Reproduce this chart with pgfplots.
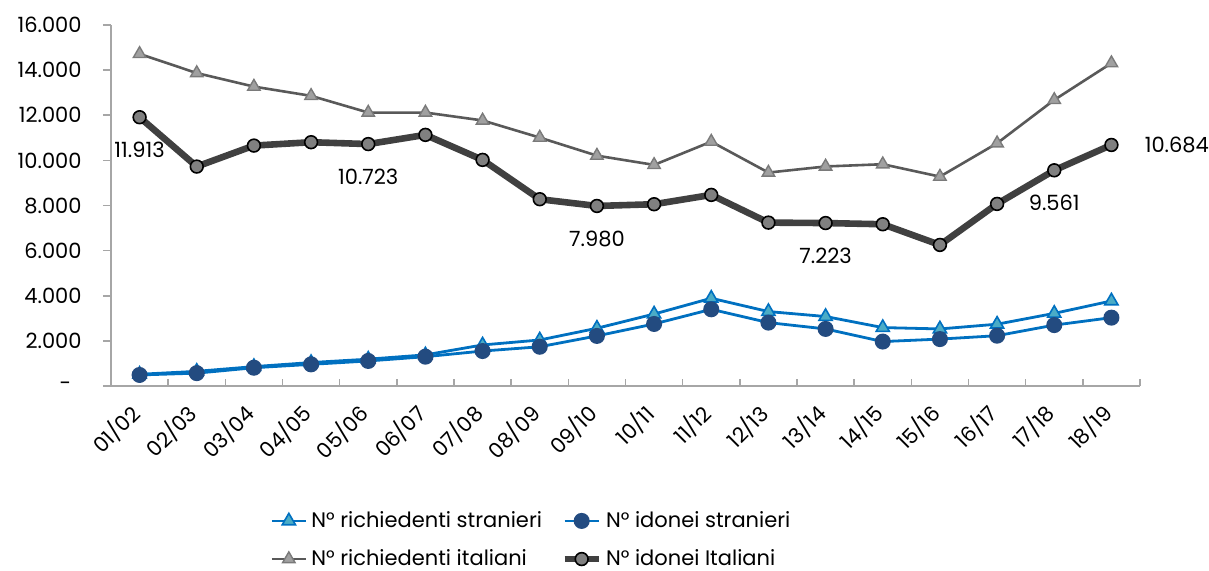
\documentclass[border=0pt]{standalone}
\usepackage{fontspec}
\setmainfont{Poppins}
\usepackage{pgfplots}
\pgfplotsset{compat=1.18}

\definecolor{blu}{HTML}{0070C0}
\definecolor{azz}{HTML}{4BACC6}
\definecolor{blusc}{HTML}{234B80}
\definecolor{gr}{HTML}{595959}
\definecolor{grtri}{HTML}{A0A0A0}
\definecolor{grdk}{HTML}{404040}
\definecolor{grc}{HTML}{808080}
\definecolor{asse}{HTML}{A6A6A6}

\begin{document}
\fontsize{10.5}{12.6}\selectfont
\begin{tikzpicture}
\path[use as bounding box] (-55.5pt,-92pt) rectangle (549pt,193pt);
\begin{axis}[
  scale only axis, width=514.5pt, height=180.5pt,
  xmin=-0.5, xmax=17.5, ymin=0, ymax=16000,
  clip=false,
  axis x line*=bottom, axis y line*=left,
  axis line style={draw=asse, line width=0.8pt, -},
  tick align=inside,
  xtick={0,...,17},
  xticklabels={01/02,02/03,03/04,04/05,05/06,06/07,07/08,08/09,09/10,10/11,11/12,12/13,13/14,14/15,15/16,16/17,17/18,18/19},
  major x tick style={draw=none},
  minor xtick={-0.5,0.5,...,17.5},
  minor tick length=3.5pt,
  minor x tick style={draw=asse, line width=0.8pt},
  scaled y ticks=false,
  ytick={0,2000,...,16000},
  yticklabels={{\makebox[11pt][l]{-}},2.000,4.000,6.000,8.000,10.000,12.000,14.000,16.000},
  major tick length=4pt,
  ytick style={draw=asse, line width=0.8pt, xshift=-4pt},
  yticklabel style={anchor=east, inner sep=0pt, xshift=-14.5pt},
  xticklabel style={xshift=-6pt, yshift=-7.5pt, rotate=45, anchor=north east, inner sep=0pt},
  legend columns=2,
  legend cell align=left,
  legend style={draw=none, fill=none, inner sep=0pt, row sep=5.5pt,
    at={(axis description cs:0.1545,-0.335)}, anchor=north west},
]
\addplot[blu, line width=1.4pt, mark=triangle*, mark size=3.8pt,
  mark options={fill=azz, draw=blu, line width=0.8pt}] coordinates {
(0,520) (1,650) (2,860) (3,1040) (4,1190) (5,1380) (6,1820) (7,2040) (8,2560)
(9,3190) (10,3890) (11,3300) (12,3080) (13,2590) (14,2530) (15,2740) (16,3220) (17,3770)};
\addlegendentry{\makebox[123pt][l]{N° richiedenti stranieri}}
\addplot[blu, line width=1.4pt, mark=*, mark size=3.3pt,
  mark options={fill=blusc, draw=blusc}] coordinates {
(0,490) (1,570) (2,810) (3,960) (4,1110) (5,1300) (6,1550) (7,1740) (8,2220)
(9,2750) (10,3400) (11,2810) (12,2530) (13,1970) (14,2080) (15,2230) (16,2700) (17,3030)};
\addlegendentry{N° idonei stranieri}
\addplot[gr, line width=1.3pt, mark=triangle*, mark size=3.6pt,
  mark options={fill=grtri, draw=gr!80, line width=0.7pt}] coordinates {
(0,14720) (1,13870) (2,13270) (3,12860) (4,12120) (5,12120) (6,11770) (7,11010) (8,10210)
(9,9800) (10,10830) (11,9460) (12,9730) (13,9830) (14,9280) (15,10760) (16,12680) (17,14310)};
\addlegendentry{\makebox[123pt][l]{N° richiedenti italiani}}
\addplot[grdk, line width=3.3pt, mark=*, mark size=3.2pt,
  mark options={fill=grc, draw=black, line width=0.8pt}] coordinates {
(0,11913) (1,9726) (2,10656) (3,10806) (4,10723) (5,11131) (6,10022) (7,8279) (8,7980)
(9,8057) (10,8470) (11,7242) (12,7223) (13,7170) (14,6253) (15,8071) (16,9561) (17,10684)};
\addlegendentry{N° idonei Italiani}

\node[inner sep=0pt, yshift=-16.5pt] at (axis cs:0,11913) {11.913};
\node[inner sep=0pt, yshift=-16.5pt] at (axis cs:4,10723) {10.723};
\node[inner sep=0pt, yshift=-16.5pt] at (axis cs:8,7980) {7.980};
\node[inner sep=0pt, yshift=-16.5pt] at (axis cs:12,7223) {7.223};
\node[inner sep=0pt, yshift=-16.5pt] at (axis cs:16,9561) {9.561};
\node[inner sep=0pt, anchor=west, xshift=16.5pt] at (axis cs:17,10684) {10.684};
\end{axis}
\end{tikzpicture}
\end{document}
